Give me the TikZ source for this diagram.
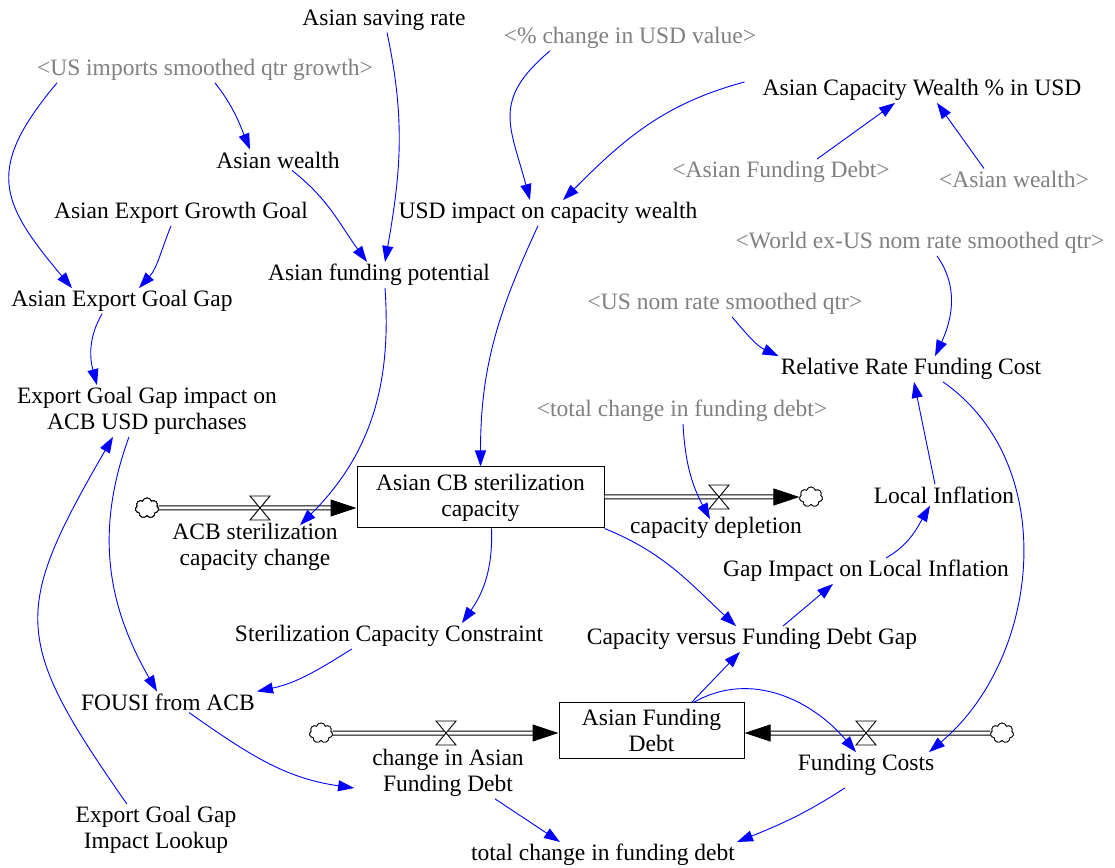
\documentclass[tikz,border=0pt]{standalone}
\usepackage{fontspec}
\setmainfont{Liberation Serif}
\usetikzlibrary{arrows.meta,shapes.symbols,calc}
\definecolor{shadowgray}{RGB}{128,128,128}
\newcommand{\flowvalve}[1]{\filldraw[fill=white,line width=0.9pt] ($(#1)+(-10,-12)$) -- ($(#1)+(10,-12)$) -- ($(#1)+(-10,12)$) -- ($(#1)+(10,12)$) -- cycle;}

\begin{document}
\begin{tikzpicture}[x=1pt,y=1pt,font=\fontsize{23.5}{26}\selectfont,
	var/.style={inner sep=2pt,align=center,yshift=-2pt},
	shadow/.style={var,text=shadowgray},
	stock/.style={draw,line width=1pt,inner sep=2pt,align=center},
	link/.style={blue,line width=0.9pt,-{Triangle[length=16pt,width=11pt]}},
	pipe/.style={double,double distance=3pt,line width=1pt},
	pipetip/.style={line width=1pt,-{Triangle[length=26pt,width=17pt]}},
	cloudy/.style={cloud,cloud puffs=7,draw,fill=white,line width=0.8pt,minimum width=23pt,minimum height=20pt,inner sep=0pt}]
		\useasboundingbox (0,0) rectangle (1115,867);

		% auxiliaries and variables
		\node [var] (saving) at (384,849) {Asian saving rate};
		\node [shadow] (usimp) at (205,799) {<US imports smoothed qtr growth>};
		\node [shadow] (pctusd) at (630,831) {<\% change in USD value>};
		\node [var] (capwealth) at (922,779) {Asian Capacity Wealth \% in USD};
		\node [var] (wealth) at (278,709) {Asian wealth};
		\node [shadow] (shfd) at (781,697) {<Asian Funding Debt>};
		\node [shadow] (shwealth) at (1014,690) {<Asian wealth>};
		\node [var] (growthgoal) at (181,656) {Asian Export Growth Goal};
		\node [var] (usdimpact) at (548,656) {USD impact on capacity wealth};
		\node [shadow] (worldrate) at (920,626) {<World ex-US nom rate smoothed qtr>};
		\node [var] (fundpot) at (379,594) {Asian funding potential};
		\node [var] (goalgap) at (122,568) {Asian Export Goal Gap};
		\node [shadow] (usrate) at (725,565) {<US nom rate smoothed qtr>};
		\node [var] (relrate) at (911,500) {Relative Rate Funding Cost};
		\node [var] (gapimpact) at (147,458) {Export Goal Gap impact on\\ACB USD purchases};
		\node [shadow] (shtotal) at (682,458) {<total change in funding debt>};
		\node [var] (localinfl) at (944,374) {Local Inflation};
		\node [var] (gapinfl) at (866,298) {Gap Impact on Local Inflation};
		\node [var] (constraint) at (389,233) {Sterilization Capacity Constraint};
		\node [var] (capgap) at (752,230) {Capacity versus Funding Debt Gap};
		\node [var] (fousi) at (168,167) {FOUSI from ACB};
		\node [var] (lookup) at (156,39) {Export Goal Gap\\Impact Lookup};
		\node [var] (total) at (603,14) {total change in funding debt};

		% stocks and flows
		\node [stock,minimum width=247pt,minimum height=61pt] (sterstock) at (480.5,369.5) {Asian CB sterilization\\capacity};
		\node [stock,minimum width=185pt,minimum height=55pt] (debtstock) at (651.5,136.5) {Asian Funding\\Debt};
		\node [var] (acbchg) at (255,322) {ACB sterilization\\capacity change};
		\node [var] (capdepl) at (716,341) {capacity depletion};
		\node [var] (chgdebt) at (448,96) {change in Asian\\Funding Debt};
		\node [var] (fundcosts) at (866,104) {Funding Costs};

		\coordinate (v1) at (260,359);
		\coordinate (v2) at (719,370);
		\coordinate (v3) at (446,134);
		\coordinate (v4) at (866,134);
		\node [cloudy] (cloud1) at (147,359) {};
		\node [cloudy] (cloud2) at (811,370) {};
		\node [cloudy] (cloud3) at (321,134) {};
		\node [cloudy] (cloud4) at (1002,134) {};

		\draw [pipe] (cloud1.east) -- ([xshift=-24]sterstock.west |- cloud1);
		\draw [pipetip] ([xshift=-26]sterstock.west |- cloud1) -- (sterstock.west |- cloud1);
		\draw [pipe] (sterstock.east |- v2) -- ([xshift=-24]cloud2.west);
		\draw [pipetip] ([xshift=-26]cloud2.west) -- (cloud2.west);
		\draw [pipe] (cloud3.east) -- ([xshift=-24]debtstock.west |- cloud3);
		\draw [pipetip] ([xshift=-26]debtstock.west |- cloud3) -- (debtstock.west |- cloud3);
		\draw [pipe] (cloud4.west) -- ([xshift=24]debtstock.east |- cloud4);
		\draw [pipetip] ([xshift=26]debtstock.east |- cloud4) -- (debtstock.east |- cloud4);
		\foreach \v in {v1,v2,v3,v4}
			\flowvalve{\v}
		\node [cloudy] at (cloud1) {};
		\node [cloudy] at (cloud2) {};
		\node [cloudy] at (cloud3) {};
		\node [cloudy] at (cloud4) {};

		% links
		\draw [link] ([xshift=10]usimp.south) to[out=-52,in=112] ([xshift=-28]wealth.north);
		\draw [link] ([xshift=-148]usimp.south) to[out=230,in=130,looseness=1.4] ([xshift=-50]goalgap.north);
		\draw [link] ([xshift=3]saving.south) to[out=-78,in=80] ([xshift=6]fundpot.north);
		\draw [link] ([xshift=14]wealth.south) to[out=-38,in=126] ([xshift=-12]fundpot.north);
		\draw [link] ([xshift=-10]growthgoal.south) to[out=248,in=48] ([xshift=17]goalgap.north);
		\draw [link] ([xshift=-20]goalgap.south) to[out=240,in=105] ([xshift=-50]gapimpact.north);
		\draw [link] ([xshift=-80]pctusd.south) to[out=220,in=105,looseness=1.3] ([xshift=-18]usdimpact.north);
		\draw [link] ([xshift=-16,yshift=8]capwealth.west) to[out=195,in=45] ([xshift=15]usdimpact.north);
		\draw [link] ([xshift=36]shfd.north) -- ([xshift=-27]capwealth.south);
		\draw [link] ([xshift=-30]shwealth.north) -- ([xshift=15]capwealth.south);
		\draw [link] ([xshift=-10]usdimpact.south) to[out=245,in=90] (sterstock.north);
		\draw [link] ([xshift=6]fundpot.south) to[out=-86,in=45] ([xshift=45,yshift=-4]acbchg.north);
		\draw [link] ([xshift=17]worldrate.south) to[out=-55,in=65] ([xshift=24]relrate.north);
		\draw [link] ([xshift=7]usrate.south) to[out=-50,in=155] (relrate.north west);
		\draw [link] ([xshift=1]shtotal.south) to[out=-87,in=118] ([xshift=-6,yshift=-4]capdepl.north);
		\draw [link] ([xshift=-9]localinfl.north) -- ([xshift=3]relrate.south);
		\draw [link] ([xshift=20]gapinfl.north) to[out=30,in=-120] ([xshift=-14]localinfl.south);
		\draw [link] ([xshift=31]capgap.north) -- ([xshift=-33]gapinfl.south);
		\draw [link] (sterstock.south east) to[out=-22,in=137] ([xshift=-16]capgap.north);
		\draw [link] ([xshift=11]sterstock.south) to[out=-88,in=55] ([xshift=73]constraint.north);
		\draw [link] ([xshift=-37]constraint.south) to[out=212,in=12] (fousi.north east);
		\draw [link] ([xshift=-18]gapimpact.south) to[out=250,in=120] ([xshift=-11]fousi.north);
		\draw [link] ([xshift=-29]lookup.north) to[out=125,in=240,looseness=1.4] ([xshift=-34]gapimpact.south);
		\draw [link] ([xshift=21]fousi.south) to[out=-35,in=172] ([xshift=-16,yshift=-15]chgdebt.west);
		\draw [link] ([xshift=47]chgdebt.south) -- ([xshift=-43]total.north);
		\draw [link] ([xshift=-21,yshift=-10]fundcosts.south) to[out=213,in=22] (total.north east);
		\draw [link] ([xshift=40]debtstock.north) -- ([xshift=-12]capgap.south);
		\draw [link] ([xshift=42]debtstock.north) to[out=30,in=130] ([xshift=-10]fundcosts.north);
		\draw [link] ([xshift=32]relrate.south) to[out=-35,in=40] ([xshift=63]fundcosts.north);
\end{tikzpicture}
\end{document}
